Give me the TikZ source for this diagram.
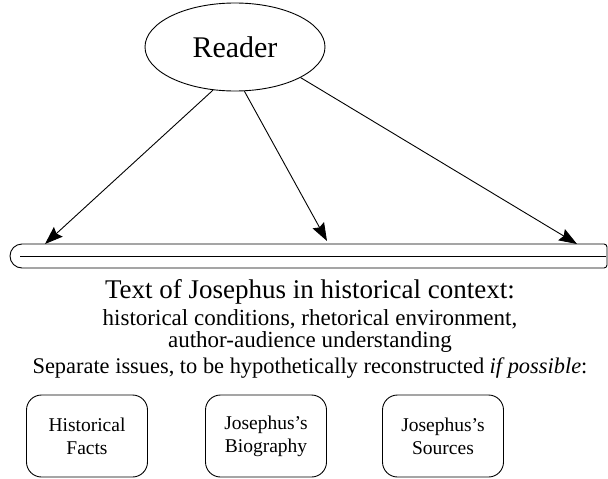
\documentclass[tikz,border=0pt]{standalone}
\usepackage{fontspec}
\setmainfont{Liberation Serif}
\usetikzlibrary{shapes.geometric,arrows.meta}
\begin{document}
\begin{tikzpicture}[x=1pt,y=-1pt,
  line width=0.9pt,
  conn/.style={-{Stealth[length=18pt,width=13pt,inset=2.5pt]}},
  issue/.style={draw,rounded corners=15pt,minimum width=121pt,minimum height=82pt,
    align=center,font=\fontsize{19.5}{23}\selectfont,inner sep=0pt},
  caption/.style={anchor=base,inner sep=0pt}]
\useasboundingbox (0,0) rectangle (608,479);

% reader
\node[draw,ellipse,minimum width=180pt,minimum height=88pt,inner sep=0pt,
  font=\fontsize{30}{34}\selectfont] (reader) at (235,47) {Reader};

% the text, drawn as a long double-lined bar
\draw (22,244) arc[start angle=270,end angle=90,radius=12] -- (604,268)
  arc[start angle=90,end angle=0,radius=3] -- (607,247)
  arc[start angle=0,end angle=-90,radius=3] -- cycle;
\draw (20,256) -- (606,256);
\coordinate (t1) at (45,244);
\coordinate (t2) at (327,241);
\coordinate (t3) at (577,244);

\draw[conn] (reader.-117) -- (t1);
\draw[conn] (reader.-78) -- (t2);
\draw[conn] (reader.-25) -- (t3);

\node[caption,font=\fontsize{27}{30}\selectfont] (ctx) at (310,298) {Text of Josephus in historical context:};
\node[caption,font=\fontsize{23}{26}\selectfont] (cond) at (310,325)
  {historical conditions, rhetorical environment,};
\node[caption,font=\fontsize{23}{26}\selectfont] (aud) at (310,347)
  {author-audience understanding};
\node[caption,font=\fontsize{22.4}{26}\selectfont] (sep) at (310,373)
  {Separate issues, to be hypothetically reconstructed \textit{if possible}:};

\node[issue] (facts) at (87,436) {Historical\\Facts};
\node[issue] (bio) at (266,436) {Josephus's\\Biography};
\node[issue] (src) at (443,436) {Josephus's\\Sources};
\end{tikzpicture}
\end{document}
